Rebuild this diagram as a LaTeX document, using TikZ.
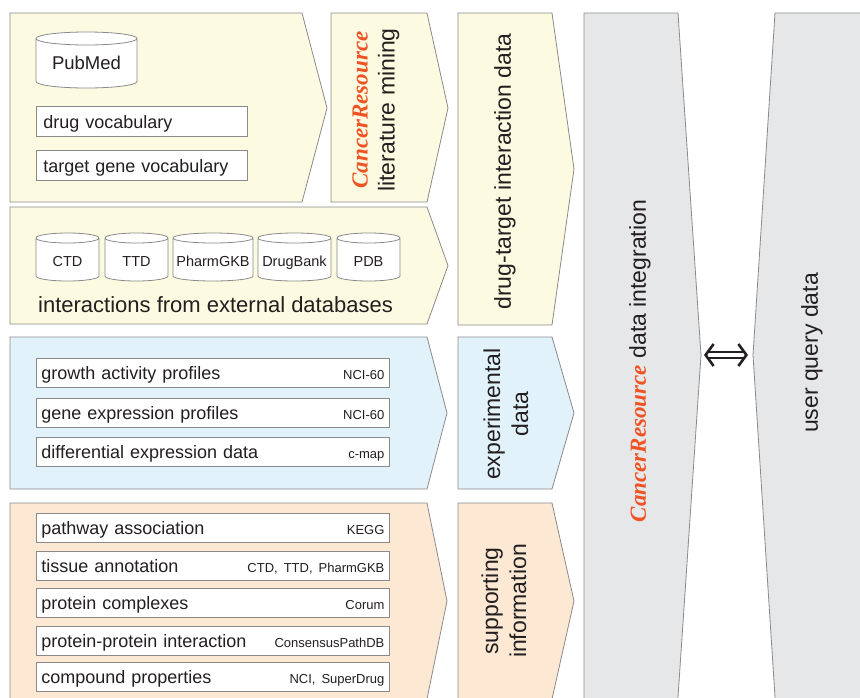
\documentclass[tikz,border=0pt]{standalone}
\usepackage{fontspec}
\setmainfont{Liberation Sans}
\newfontfamily\crserif{Liberation Serif}
\usetikzlibrary{arrows.meta}

\definecolor{cryellow}{HTML}{FCFAE0}
\definecolor{crblue}{HTML}{E2F2FA}
\definecolor{crorange}{HTML}{FDE8D4}
\definecolor{crgray}{HTML}{E6E7E9}
\definecolor{crline}{HTML}{8A8A8A}
\definecolor{crred}{HTML}{EF5323}
\definecolor{crtext}{HTML}{231F20}
\newcommand{\crname}{{\crserif\bfseries\itshape\color{crred}CancerResource}}

\begin{document}
\begin{tikzpicture}[x=1pt, y=-1pt, text=crtext,
    panel/.style={draw=crline, line width=0.8pt},
    item/.style={draw=crline, fill=white, line width=0.8pt, anchor=north west, align=left,
        inner xsep=5pt, inner ysep=0pt, text width=343pt, text height=21pt, text depth=7.5pt,
        font=\fontsize{18}{18}\selectfont},
    vocab/.style={item, inner xsep=7pt, text width=197pt, text height=22pt, text depth=8pt},
    dbline/.style={draw=crline, fill=white, line width=0.8pt},
    db/.style={anchor=base, inner sep=0pt, font=\fontsize{14.5}{14.5}\selectfont},
    side/.style={rotate=90, align=center, font=\fontsize{23}{28}\selectfont}]
    \useasboundingbox (0,0) rectangle (860,697);
    \clip (0,0) rectangle (860,697);

    % arrow-shaped panels
    \draw[panel, fill=cryellow] (10,13) -- (302,13) -- (327,108) -- (302,202) -- (10,202) -- cycle;
    \draw[panel, fill=cryellow] (331,13) -- (427,13) -- (448,108) -- (427,202) -- (331,202) -- cycle;
    \draw[panel, fill=cryellow] (10,207) -- (427,207) -- (448,265.5) -- (427,324) -- (10,324) -- cycle;
    \draw[panel, fill=cryellow] (458,13) -- (552,13) -- (574,169) -- (552,325) -- (458,325) -- cycle;
    \draw[panel, fill=crblue] (10,337) -- (427,337) -- (447,413) -- (427,489) -- (10,489) -- cycle;
    \draw[panel, fill=crblue] (458,337) -- (552,337) -- (574,413) -- (552,489) -- (458,489) -- cycle;
    \draw[panel, fill=crorange] (10,503) -- (427,503) -- (447,601) -- (427,699) -- (10,699) -- cycle;
    \draw[panel, fill=crorange] (458,503) -- (552,503) -- (574,601) -- (552,699) -- (458,699) -- cycle;
    \draw[panel, fill=crgray] (584,705) -- (584,13) -- (678,13) -- (701,355) -- (678,697) -- (677.5,705) -- cycle;
    \draw[panel, fill=crgray] (870,13) -- (775,13) -- (753,355) -- (775,697) -- (775.5,705) -- (870,705) -- cycle;

    % database cylinders: centre x, centre y, half width, half height, cap radius
    \foreach \cx/\cy/\rx/\hh/\ee in {86.5/60/50.5/28/6.5, 67.5/257/31.5/24/5, 136.5/257/31.5/24/5,
        213/257/40/24/5, 294.5/257/36.5/24/5, 368.5/257/31.5/24/5}
        \draw[dbline] ({\cx-\rx},{\cy-\hh+\ee}) -- ({\cx-\rx},{\cy+\hh-\ee})
            arc[start angle=180, end angle=360, x radius=\rx pt, y radius=\ee pt]
            -- ({\cx+\rx},{\cy-\hh+\ee})
            arc[start angle=0, end angle=180, x radius=\rx pt, y radius=\ee pt] -- cycle
            ({\cx-\rx},{\cy-\hh+\ee}) arc[start angle=180, end angle=360, x radius=\rx pt, y radius=\ee pt];

    % literature mining
    \node[db, font=\fontsize{18.5}{18.5}\selectfont] (pubmed) at (86.5,69.5) {PubMed};
    \node[vocab] (drugvoc) at (36,106) {drug vocabulary};
    \node[vocab] (genevoc) at (36,150) {target gene vocabulary};
    \node[side, font=\fontsize{23}{27}\selectfont] (litmining) at (376,110) {\crname\\literature mining};

    % external databases
    \node[db] (ctd) at (67.5,266.5) {CTD};
    \node[db] (ttd) at (136.5,266.5) {TTD};
    \node[db] (pharmgkb) at (213,266.5) {PharmGKB};
    \node[db] (drugbank) at (294.5,266.5) {DrugBank};
    \node[db] (pdb) at (368.5,266.5) {PDB};
    \node[anchor=base west, inner sep=0pt, font=\fontsize{22}{22}\selectfont] (extdb) at (38,312) {interactions from external databases};
    \node[side] (dtidata) at (505,171.5) {drug-target interaction data};

    % experimental data
    \node[item] (growth) at (36,358) {growth activity profiles\hfill{\fontsize{13}{13}\selectfont NCI-60}};
    \node[item] (geneexpr) at (36,398) {gene expression profiles\hfill{\fontsize{13}{13}\selectfont NCI-60}};
    \node[item] (diffexpr) at (36,437) {differential expression data\hfill{\fontsize{13}{13}\selectfont c-map}};
    \node[side] (expdata) at (506,414) {experimental\\data};

    % supporting information
    \node[item] (pathway) at (36,513) {pathway association\hfill{\fontsize{13}{13}\selectfont KEGG}};
    \node[item] (tissue) at (36,551) {tissue annotation\hfill{\fontsize{13}{13}\selectfont CTD, TTD, PharmGKB}};
    \node[item] (complex) at (36,588) {protein complexes\hfill{\fontsize{13}{13}\selectfont Corum}};
    \node[item] (ppi) at (36,626) {protein-protein interaction\hfill{\fontsize{13}{13}\selectfont ConsensusPathDB}};
    \node[item] (compound) at (36,662) {compound properties\hfill{\fontsize{13}{13}\selectfont NCI, SuperDrug}};
    \node[side] (support) at (504,601) {supporting\\information};

    % integration and user query
    \node[side] (integration) at (640,361) {\crname{} data integration};
    \node[side] (userquery) at (812,353) {user query data};
    \coordinate (intside) at (703,355);
    \coordinate (userside) at (749,355);
    \draw[crtext, double, double distance=3.5pt, line width=2pt, shorten >=1pt, shorten <=1pt,
        {Straight Barb[length=8pt, width=22pt, line width=2.6pt]}-{Straight Barb[length=8pt, width=22pt, line width=2.6pt]}] (intside) -- (userside);
\end{tikzpicture}
\end{document}
